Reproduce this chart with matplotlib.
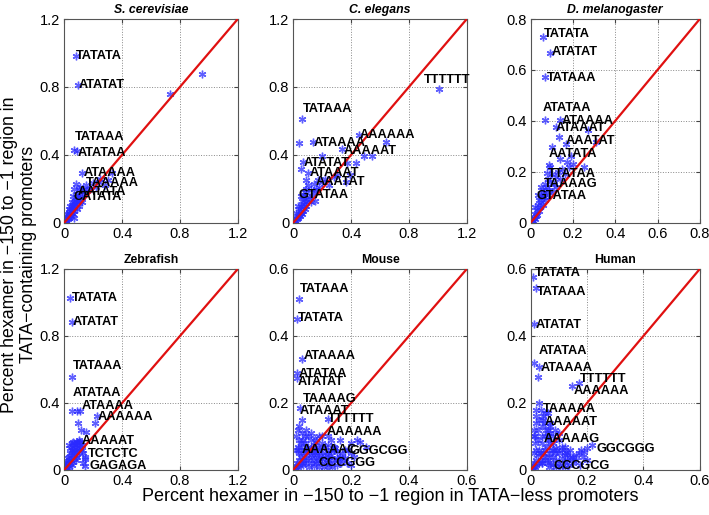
import matplotlib.pyplot as plt

plt.rcParams['font.family'] = ['Liberation Sans', 'DejaVu Sans']

# ---- S. cerevisiae ----
sc_x = [0.079, 0.092, 0.732, 0.954, 0.069, 0.085, 0.125, 0.33, 0.2, 0.24, 0.3,
        0.005, 0.01, 0.015, 0.02, 0.025, 0.03, 0.035, 0.04, 0.04, 0.045, 0.05, 0.05,
        0.055, 0.06, 0.06, 0.065, 0.07, 0.07, 0.075, 0.08, 0.08, 0.085, 0.09, 0.09,
        0.095, 0.1, 0.1, 0.105, 0.11, 0.11, 0.12, 0.125, 0.13, 0.14, 0.15, 0.16,
        0.18, 0.22, 0.25, 0.28, 0.035, 0.05, 0.06, 0.07, 0.08, 0.04, 0.03, 0.02,
        0.015, 0.1, 0.12, 0.065]
sc_y = [0.982, 0.81, 0.756, 0.874, 0.428, 0.425, 0.295, 0.29, 0.232, 0.24, 0.25,
        0.005, 0.015, 0.01, 0.03, 0.02, 0.04, 0.03, 0.05, 0.07, 0.04, 0.06, 0.09,
        0.08, 0.05, 0.1, 0.12, 0.07, 0.09, 0.13, 0.11, 0.15, 0.08, 0.12, 0.17,
        0.14, 0.1, 0.19, 0.16, 0.13, 0.21, 0.18, 0.15, 0.2, 0.17, 0.22, 0.19,
        0.2, 0.21, 0.26, 0.22, 0.06, 0.12, 0.16, 0.2, 0.23, 0.1, 0.08, 0.05,
        0.04, 0.14, 0.12, 0.03]
sc_labels = ['TATATA', 'ATATAT', 'TATAAA', 'ATATAA', 'ATAAAA', 'TAAAAA', 'AATATA', 'CATATA']
sc_lab_x = [0.081, 0.10, 0.074, 0.09, 0.136, 0.15, 0.09, 0.062]
sc_lab_y = [0.98, 0.81, 0.507, 0.41, 0.29, 0.232, 0.183, 0.149]

# ---- C. elegans ----
ce_x = [1.011, 0.062, 0.042, 0.134, 0.457, 0.642, 0.34, 0.49, 0.545, 0.434, 0.2,
        0.065, 0.37, 0.05, 0.104, 0.39, 0.088, 0.365,
        0.005, 0.01, 0.015, 0.02, 0.025, 0.03, 0.035, 0.04, 0.04, 0.045, 0.05, 0.05,
        0.055, 0.06, 0.06, 0.065, 0.07, 0.07, 0.075, 0.08, 0.08, 0.085, 0.09, 0.09,
        0.1, 0.1, 0.11, 0.12, 0.12, 0.13, 0.14, 0.15, 0.16, 0.18, 0.2, 0.22, 0.25,
        0.28, 0.03, 0.02, 0.05, 0.08, 0.15, 0.3, 0.17]
ce_y = [0.786, 0.611, 0.468, 0.477, 0.517, 0.477, 0.434, 0.395, 0.395, 0.35, 0.393,
        0.356, 0.35, 0.314, 0.295, 0.28, 0.251, 0.24,
        0.005, 0.012, 0.008, 0.025, 0.02, 0.04, 0.03, 0.05, 0.08, 0.04, 0.06, 0.1,
        0.07, 0.05, 0.13, 0.09, 0.07, 0.16, 0.11, 0.08, 0.18, 0.12, 0.1, 0.2,
        0.13, 0.22, 0.15, 0.12, 0.19, 0.16, 0.23, 0.18, 0.2, 0.21, 0.24, 0.26, 0.22,
        0.27, 0.1, 0.06, 0.16, 0.14, 0.13, 0.28, 0.25]
ce_labels = ['TTTTTT', 'TATAAA', 'ATAAAA', 'AAAAAA', 'AAAAAT', 'ATATAT', 'ATAAAT', 'AAATAT', 'GTATAA']
ce_lab_x = [0.9, 0.065, 0.138, 0.46, 0.346, 0.074, 0.11, 0.157, 0.035]
ce_lab_y = [0.84, 0.67, 0.47, 0.515, 0.424, 0.35, 0.295, 0.238, 0.163]

# ---- D. melanogaster ----
dm_x = [0.059, 0.093, 0.067, 0.067, 0.137, 0.118, 0.27, 0.134, 0.165, 0.31, 0.103,
        0.087, 0.075, 0.19, 0.2, 0.25,
        0.004, 0.008, 0.012, 0.015, 0.02, 0.022, 0.025, 0.03, 0.03, 0.035, 0.04, 0.04,
        0.045, 0.05, 0.05, 0.055, 0.06, 0.06, 0.065, 0.07, 0.07, 0.075, 0.08, 0.08,
        0.085, 0.09, 0.1, 0.1, 0.11, 0.12, 0.13, 0.14, 0.15, 0.16, 0.17, 0.18,
        0.02, 0.035, 0.05, 0.065, 0.09, 0.12, 0.14]
dm_y = [0.729, 0.665, 0.571, 0.403, 0.403, 0.374, 0.364, 0.338, 0.309, 0.318, 0.299,
        0.227, 0.194, 0.26, 0.23, 0.22,
        0.004, 0.01, 0.008, 0.02, 0.015, 0.035, 0.025, 0.05, 0.03, 0.07, 0.045, 0.09,
        0.06, 0.08, 0.11, 0.1, 0.07, 0.13, 0.12, 0.09, 0.15, 0.14, 0.11, 0.17,
        0.13, 0.16, 0.12, 0.19, 0.15, 0.18, 0.2, 0.17, 0.21, 0.19, 0.24, 0.22,
        0.06, 0.11, 0.14, 0.1, 0.22, 0.14, 0.25]
dm_labels = ['TATATA', 'ATATAT', 'TATAAA', 'ATATAA', 'ATAAAA', 'ATAAAT', 'AAATAT',
             'AATATA', 'TTATAA', 'TAAAAG', 'GTATAA']
dm_lab_x = [0.062, 0.10, 0.075, 0.059, 0.145, 0.118, 0.165, 0.087, 0.082, 0.062, 0.028]
dm_lab_y = [0.741, 0.669, 0.57, 0.449, 0.4, 0.373, 0.322, 0.27, 0.191, 0.153, 0.105]

# ---- Zebrafish ----
zf_x = [0.039, 0.051, 0.053, 0.051, 0.085, 0.108, 0.224, 0.092, 0.212, 0.113, 0.15,
        0.104, 0.145, 0.143, 0.13,
        0.004, 0.008, 0.012, 0.015, 0.02, 0.02, 0.025, 0.03, 0.03, 0.035, 0.04, 0.04,
        0.045, 0.05, 0.05, 0.055, 0.06, 0.06, 0.065, 0.07, 0.07, 0.075, 0.08, 0.08,
        0.085, 0.09, 0.09, 0.1, 0.1, 0.11, 0.12, 0.13, 0.025, 0.04, 0.06, 0.08,
        0.1, 0.05, 0.07, 0.035, 0.12, 0.14, 0.11, 0.095, 0.015, 0.01]
zf_y = [1.029, 0.886, 0.557, 0.352, 0.354, 0.352, 0.324, 0.281, 0.281, 0.237, 0.229,
        0.177, 0.068, 0.024, 0.04,
        0.004, 0.01, 0.006, 0.02, 0.012, 0.04, 0.03, 0.06, 0.02, 0.08, 0.04, 0.1,
        0.06, 0.12, 0.03, 0.09, 0.14, 0.05, 0.11, 0.16, 0.07, 0.13, 0.15, 0.09,
        0.12, 0.17, 0.08, 0.14, 0.11, 0.13, 0.15, 0.1, 0.07, 0.13, 0.17, 0.06,
        0.17, 0.16, 0.12, 0.15, 0.12, 0.08, 0.17, 0.16, 0.05, 0.03]
zf_labels = ['TATATA', 'ATATAT', 'TATAAA', 'ATATAA', 'ATAAAA', 'AAAAAA', 'AAAAAT', 'TCTCTC', 'GAGAGA']
zf_lab_x = [0.055, 0.058, 0.058, 0.058, 0.12, 0.228, 0.12, 0.166, 0.171]
zf_lab_y = [1.025, 0.886, 0.623, 0.458, 0.384, 0.318, 0.173, 0.096, 0.024]

# ---- Mouse ----
mm_x = [0.021, 0.012, 0.029, 0.012, 0.012, 0.023, 0.121, 0.22, 0.19, 0.03, 0.015,
        0.25, 0.2, 0.16, 0.1,
        0.003, 0.006, 0.01, 0.012, 0.015, 0.018, 0.02, 0.025, 0.03, 0.03, 0.035, 0.04,
        0.04, 0.045, 0.05, 0.05, 0.055, 0.06, 0.06, 0.065, 0.07, 0.07, 0.075, 0.08,
        0.08, 0.085, 0.09, 0.09, 0.1, 0.1, 0.11, 0.11, 0.12, 0.12, 0.13, 0.13,
        0.14, 0.15, 0.15, 0.16, 0.17, 0.18, 0.01, 0.02, 0.03, 0.04, 0.05, 0.015,
        0.025, 0.035, 0.06, 0.08, 0.1, 0.12, 0.14,
        0.09, 0.105, 0.12, 0.135, 0.15, 0.165, 0.14, 0.155, 0.17, 0.125, 0.11, 0.095,
        0.075, 0.06, 0.045, 0.035, 0.055, 0.07, 0.085, 0.1, 0.115, 0.13, 0.145, 0.06,
        0.045, 0.02, 0.015, 0.025, 0.01, 0.04, 0.045, 0.02, 0.06, 0.075, 0.09, 0.12,
        0.13, 0.2, 0.21, 0.18, 0.23, 0.185, 0.2]
mm_y = [0.509, 0.45, 0.332, 0.289, 0.276, 0.186, 0.151, 0.09, 0.06, 0.15, 0.12,
        0.07, 0.08, 0.09, 0.1,
        0.003, 0.008, 0.004, 0.02, 0.01, 0.03, 0.015, 0.04, 0.02, 0.05, 0.03, 0.06,
        0.02, 0.045, 0.07, 0.03, 0.055, 0.02, 0.065, 0.04, 0.075, 0.03, 0.06, 0.045,
        0.02, 0.07, 0.035, 0.055, 0.02, 0.065, 0.04, 0.07, 0.03, 0.055, 0.045, 0.02,
        0.06, 0.035, 0.055, 0.04, 0.05, 0.035, 0.1, 0.09, 0.11, 0.08, 0.1, 0.06,
        0.07, 0.09, 0.09, 0.085, 0.08, 0.075, 0.07,
        0.01, 0.01, 0.012, 0.01, 0.015, 0.02, 0.03, 0.03, 0.035, 0.04, 0.05, 0.045,
        0.05, 0.045, 0.035, 0.015, 0.01, 0.012, 0.028, 0.032, 0.025, 0.06, 0.065, 0.06,
        0.06, 0.05, 0.07, 0.08, 0.06, 0.1, 0.12, 0.13, 0.11, 0.095, 0.1, 0.1,
        0.09, 0.05, 0.04, 0.06, 0.085, 0.02, 0.015]
mm_labels = ['TATAAA', 'TATATA', 'ATAAAA', 'ATATAA', 'ATATAT', 'TAAAAG', 'ATAAAT', 'TTTTTT',
             'AAAAAA', 'AAAAAC', 'GGGCGG', 'CCCGGG']
mm_lab_x = [0.023, 0.017, 0.035, 0.017, 0.015, 0.032, 0.023, 0.121, 0.115, 0.029, 0.196, 0.087]
mm_lab_y = [0.539, 0.453, 0.34, 0.287, 0.264, 0.211, 0.177, 0.151, 0.114, 0.06, 0.057, 0.02]

# ---- Human ----
hs_x = [0.009, 0.019, 0.012, 0.013, 0.03, 0.027, 0.173, 0.147, 0.03, 0.219, 0.2,
        0.18, 0.16, 0.05,
        0.003, 0.006, 0.01, 0.012, 0.015, 0.018, 0.02, 0.025, 0.03, 0.03, 0.035, 0.04,
        0.04, 0.045, 0.05, 0.05, 0.055, 0.06, 0.06, 0.065, 0.07, 0.07, 0.075, 0.08,
        0.08, 0.085, 0.09, 0.09, 0.1, 0.1, 0.11, 0.11, 0.12, 0.12, 0.13, 0.13,
        0.14, 0.15, 0.01, 0.015, 0.02, 0.025, 0.03, 0.04, 0.05, 0.06, 0.07, 0.02,
        0.035, 0.045, 0.08, 0.1, 0.12,
        0.09, 0.105, 0.12, 0.135, 0.15, 0.16, 0.145, 0.125, 0.11, 0.095, 0.08, 0.065,
        0.05, 0.035, 0.02, 0.01, 0.015, 0.025, 0.01, 0.04, 0.06, 0.07, 0.055, 0.07,
        0.085, 0.1, 0.045, 0.02, 0.06, 0.17, 0.185, 0.2, 0.175, 0.19, 0.08, 0.065,
        0.04, 0.05, 0.14]
hs_y = [0.575, 0.544, 0.435, 0.32, 0.306, 0.278, 0.259, 0.251, 0.199, 0.075, 0.065,
        0.06, 0.045, 0.17,
        0.003, 0.008, 0.004, 0.02, 0.01, 0.03, 0.015, 0.045, 0.02, 0.06, 0.03, 0.08,
        0.02, 0.05, 0.1, 0.03, 0.07, 0.02, 0.09, 0.04, 0.11, 0.025, 0.06, 0.04,
        0.08, 0.05, 0.03, 0.065, 0.02, 0.05, 0.035, 0.06, 0.025, 0.045, 0.03, 0.05,
        0.04, 0.035, 0.12, 0.1, 0.14, 0.12, 0.15, 0.13, 0.14, 0.12, 0.13, 0.16,
        0.18, 0.15, 0.1, 0.09, 0.07,
        0.01, 0.012, 0.01, 0.015, 0.02, 0.03, 0.04, 0.055, 0.07, 0.06, 0.06, 0.05,
        0.04, 0.05, 0.06, 0.05, 0.08, 0.09, 0.1, 0.1, 0.1, 0.08, 0.12, 0.14,
        0.12, 0.11, 0.16, 0.18, 0.17, 0.05, 0.04, 0.03, 0.015, 0.055, 0.015, 0.01,
        0.02, 0.06, 0.06]
hs_labels = ['TATATA', 'TATAAA', 'ATATAT', 'ATATAA', 'ATAAAA', 'TTTTTT', 'AAAAAA', 'TAAAAA',
             'AAAAAT', 'AAAAAG', 'GGCGGG', 'CCCGCG']
hs_lab_x = [0.015, 0.023, 0.019, 0.03, 0.035, 0.173, 0.152, 0.044, 0.051, 0.047, 0.235, 0.082]
hs_lab_y = [0.589, 0.53, 0.433, 0.356, 0.305, 0.271, 0.236, 0.183, 0.142, 0.092, 0.062, 0.012]

titles = ['S. cerevisiae', 'C. elegans', 'D. melanogaster', 'Zebrafish', 'Mouse', 'Human']
italic_title = [True, True, True, False, False, False]
axis_max = [1.2, 1.2, 0.8, 1.2, 0.6, 0.6]
tick_sets = [[0, 0.4, 0.8, 1.2], [0, 0.4, 0.8, 1.2], [0, 0.2, 0.4, 0.6, 0.8],
             [0, 0.4, 0.8, 1.2], [0, 0.2, 0.4, 0.6], [0, 0.2, 0.4, 0.6]]

panels = [
    (sc_x, sc_y, sc_labels, sc_lab_x, sc_lab_y),
    (ce_x, ce_y, ce_labels, ce_lab_x, ce_lab_y),
    (dm_x, dm_y, dm_labels, dm_lab_x, dm_lab_y),
    (zf_x, zf_y, zf_labels, zf_lab_x, zf_lab_y),
    (mm_x, mm_y, mm_labels, mm_lab_x, mm_lab_y),
    (hs_x, hs_y, hs_labels, hs_lab_x, hs_lab_y),
]

# axes rectangles (left, bottom, width, height) in figure fractions
col_left = [0.0907, 0.4137, 0.7485]
col_width = [0.2447, 0.2447, 0.2385]
row_bottom = [0.5676, 0.0874]
row_height = [0.3955, 0.3903]

fig = plt.figure(figsize=(7.09, 5.15), dpi=100)

for i, (px, py, labs, lx, ly) in enumerate(panels):
    r, c = divmod(i, 3)
    w = col_width[c] if r == 0 else col_width[0]
    if r == 1 and c == 2:
        w = col_width[2]
    ax = fig.add_axes([col_left[c], row_bottom[r], w, row_height[r]])
    m = axis_max[i]

    # MATLAB-like asterisk markers
    ax.plot(px, py, linestyle='none', marker=(6, 2, 0), markersize=5.5,
            color='#2a2aff', alpha=0.75, markeredgewidth=1.0, zorder=2)
    ax.plot([0, m], [0, m], color='#e01010', linewidth=1.6, zorder=3)

    for lab, tx, ty in zip(labs, lx, ly):
        ax.text(tx, ty, lab, fontsize=9.2, fontweight='bold', ha='left',
                va='center', color='black', zorder=4)

    ax.set_xlim(0, m)
    ax.set_ylim(0, m)
    ax.set_xticks(tick_sets[i])
    ax.set_yticks(tick_sets[i])
    ax.set_xticklabels([f'{t:g}' for t in tick_sets[i]])
    ax.set_yticklabels([f'{t:g}' for t in tick_sets[i]])
    ax.tick_params(direction='in', length=3, labelsize=10.5, pad=3,
                   top=True, right=True, color='#444444')
    ax.grid(True, linestyle=':', color='#888888', linewidth=0.7)
    for s in ax.spines.values():
        s.set_color('#555555')
        s.set_linewidth(0.8)

    ax.set_title(titles[i], fontsize=8.8, fontweight='bold',
                 fontstyle='italic' if italic_title[i] else 'normal', pad=4)

fig.text(0.027, 0.505, 'Percent hexamer in \u2212150 to \u22121 region in\nTATA\u2212containing promoters',
         rotation=90, ha='center', va='center', fontsize=12.8, linespacing=1.1)
fig.text(0.55, 0.035, 'Percent hexamer in \u2212150 to \u22121 region in TATA\u2212less promoters',
         ha='center', va='center', fontsize=13)

plt.savefig('out.png', dpi=100)
